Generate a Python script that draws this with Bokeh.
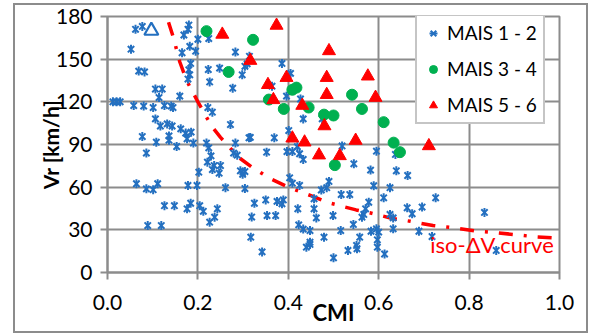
import numpy as np
from bokeh.plotting import figure
from bokeh.models import (Legend, LegendItem, Label, Range1d, FixedTicker,
                          NumeralTickFormatter)
from bokeh.embed import file_html
from bokeh.resources import INLINE

# ---------------- data ----------------
mais12_cmi = [0.062, 0.077, 0.052, 0.180, 0.178, 0.169, 0.200, 0.224, 0.165, 0.182,
              0.195, 0.184, 0.180, 0.182, 0.178, 0.069, 0.082, 0.106, 0.121, 0.114,
              0.160, 0.012, 0.020, 0.028, 0.058, 0.080, 0.101, 0.126, 0.141, 0.145,
              0.222, 0.232, 0.106, 0.117, 0.132, 0.143, 0.162, 0.173, 0.185, 0.077,
              0.136, 0.136, 0.108, 0.176, 0.190, 0.219, 0.272, 0.283, 0.313, 0.283,
              0.314, 0.309, 0.304, 0.298, 0.223, 0.248, 0.226, 0.277, 0.386, 0.405,
              0.364, 0.396, 0.427, 0.433, 0.475, 0.401, 0.316, 0.369, 0.519, 0.420,
              0.425, 0.433, 0.397, 0.409, 0.595, 0.637, 0.545, 0.582, 0.352, 0.639,
              0.664, 0.403, 0.409, 0.425, 0.490, 0.485, 0.473, 0.517, 0.536, 0.589,
              0.625, 0.611, 0.726, 0.325, 0.350, 0.375, 0.389, 0.386, 0.421, 0.457,
              0.457, 0.462, 0.499, 0.578, 0.571, 0.567, 0.563, 0.625, 0.632, 0.319,
              0.353, 0.372, 0.423, 0.433, 0.448, 0.479, 0.516, 0.544, 0.558, 0.583,
              0.595, 0.600, 0.632, 0.597, 0.597, 0.613, 0.440, 0.448, 0.448, 0.532,
              0.552, 0.551, 0.500, 0.342, 0.317, 0.663, 0.674, 0.696, 0.834, 0.689,
              0.718, 0.860, 0.086, 0.153, 0.224, 0.229, 0.221, 0.236, 0.232, 0.250,
              0.247, 0.202, 0.279, 0.287, 0.294, 0.304, 0.299, 0.261, 0.304, 0.064,
              0.086, 0.101, 0.111, 0.178, 0.198, 0.126, 0.148, 0.184, 0.176, 0.204,
              0.212, 0.243, 0.237, 0.226, 0.089, 0.119]
mais12_vr = [171, 173, 157, 174, 171, 167, 164, 164.5, 154.5, 159,
             155.6, 147, 142.5, 139, 136, 141.6, 141, 129, 129, 123,
             124, 120, 120, 120, 117.4, 117, 116, 117.4, 117, 116,
             116, 112.7, 108, 103, 104.5, 103, 101, 98, 98.7, 95.6,
             96, 93, 91.6, 94, 91, 91, 104, 91, 94.7, 155,
             152, 146.7, 145, 139, 142.7, 143.7, 134, 129.6, 147, 140,
             131, 124, 122, 108, 108, 99.8, 95, 94.7, 89, 88.5,
             83.5, 79.5, 85, 85, 85.3, 83, 76.4, 72, 84.6, 71.5,
             68.2, 66.6, 62.8, 61.2, 64, 59.6, 58, 54.8, 54.8, 61,
             59.6, 52.5, 52.5, 48.7, 51, 50, 51, 48.3, 44.8, 51.8,
             44.8, 38.4, 40, 49.4, 44.8, 40.8, 38.9, 40.8, 38.4, 39,
             40, 40, 33.5, 30.5, 29.5, 24.8, 29.5, 33.8, 24.8, 29,
             30.7, 28.4, 30.7, 23, 17.8, 13, 17.8, 19.7, 21.3, 15.5,
             16.7, 19, 10.3, 14.5, 24.8, 45.5, 41.3, 46, 42.2, 29,
             25.3, 15.5, 84, 88.6, 87.7, 82, 77.6, 75.2, 72.4, 75.2,
             69.8, 70.5, 84, 82.5, 71.5, 71, 69, 59.6, 59, 62.4,
             58.8, 58.2, 62.4, 61.2, 61.2, 47, 47, 48.7, 44.8, 47,
             43, 44.8, 38.9, 35.4, 33, 33]

mais34_cmi = [0.219, 0.322, 0.268, 0.409, 0.418, 0.541, 0.357, 0.390, 0.445, 0.563,
              0.479, 0.500, 0.611, 0.633, 0.647, 0.503]
mais34_vr = [169.7, 163.6, 141, 128.5, 130, 125, 121.6, 115, 116, 115,
             111, 110.4, 105.7, 91.3, 84.6, 75.5]

mais56_cmi = [0.254, 0.374, 0.316, 0.490, 0.396, 0.485, 0.576, 0.355, 0.485, 0.593,
              0.367, 0.431, 0.480, 0.409, 0.436, 0.549, 0.711, 0.468, 0.514]
mais56_vr = [167.4, 173.7, 149, 155.8, 137, 137, 138, 132, 125, 123,
             121.4, 117.4, 103, 94.4, 91.6, 92.8, 89, 82.5, 82]

marked_cmi = [0.097]
marked_vr = [170]

curve_cmi = [0.135, 0.145, 0.16, 0.175, 0.2, 0.23, 0.25, 0.29, 0.32, 0.36, 0.4,
             0.45, 0.49, 0.55, 0.58, 0.63, 0.67, 0.72, 0.765, 0.82, 0.86, 0.92,
             0.95, 1.0]
curve_vr = [176, 166, 148, 135, 120, 103, 95, 81, 74, 66, 60,
            54, 49, 44, 42, 38, 36, 33, 31.5, 29, 28, 26,
            25, 24]

x_ticks = [0.0, 0.2, 0.4, 0.6, 0.8, 1.0]
y_ticks = [0, 30, 60, 90, 120, 150, 180]
series_labels = ["MAIS 1 - 2", "MAIS 3 - 4", "MAIS 5 - 6"]
curve_label = "iso-\u0394V curve"
curve_label_pos = (0.714, 20)

# ---------------- figure ----------------
FONT = "Lato"
GRID = "#8c8c8c"
BLUE = "#2470c0"
GREEN = "#00b050"
RED = "#ff0000"

p = figure(width=575, height=330, x_range=Range1d(0, 1), y_range=Range1d(0, 180),
           output_backend="svg", toolbar_location=None,
           min_border_left=94, min_border_right=29, min_border_top=13,
           min_border_bottom=61)
p.styles = {"margin-left": "13px", "margin-top": "3px",
            "box-shadow": "inset 0 0 0 2px #8c8c8c"}
p.background_fill_color = "white"
p.border_fill_color = "white"
p.border_fill_alpha = 0
p.outline_line_color = GRID
p.outline_line_width = 2

for ax in (p.xaxis[0], p.yaxis[0]):
    ax.axis_line_color = GRID
    ax.axis_line_width = 2
    ax.major_tick_line_color = GRID
    ax.major_tick_line_width = 2
    ax.major_tick_out = 7
    ax.major_tick_in = 0
    ax.minor_tick_line_color = None
    ax.major_label_text_font = FONT
    ax.major_label_text_font_size = "21px"
    ax.major_label_text_color = "black"
    ax.axis_label_text_font = FONT
    ax.axis_label_text_font_style = "bold"
    ax.axis_label_text_font_size = "21px"
    ax.axis_label_text_color = "black"

p.xaxis.ticker = FixedTicker(ticks=x_ticks)
p.yaxis.ticker = FixedTicker(ticks=y_ticks)
p.xaxis.formatter = NumeralTickFormatter(format="0.0")
p.xaxis.axis_label = "CMI"
p.yaxis.axis_label = "Vr [km/h]"
p.xaxis.major_label_standoff = 15
p.yaxis.major_label_standoff = 8
p.xaxis.axis_label_standoff = -14
p.yaxis.axis_label_standoff = -10
p.xaxis.axis_label_text_font_size = "22px"

p.grid.grid_line_color = GRID
p.grid.grid_line_width = 2
p.xgrid.ticker = FixedTicker(ticks=x_ticks)
p.ygrid.ticker = FixedTicker(ticks=y_ticks)

# iso curve
p.line(curve_cmi, curve_vr, line_color=RED, line_width=3.5, line_dash="14 11 3 11")

r_x = p.scatter(mais12_cmi, mais12_vr, marker="x", size=9, line_color=BLUE, line_width=2)
r_bar = p.scatter(mais12_cmi, mais12_vr, marker="dash", angle=np.pi / 2, size=9,
                  line_color=BLUE, line_width=2)
r_g = p.scatter(mais34_cmi, mais34_vr, marker="circle", size=11, fill_color=GREEN,
                line_color=GREEN)
r_r = p.scatter(mais56_cmi, mais56_vr, marker="triangle", size=13, fill_color=RED,
                line_color=RED)
p.scatter(marked_cmi, marked_vr, marker="triangle", size=14, fill_color=None,
          line_color=BLUE, line_width=2.2)

p.add_layout(Label(x=curve_label_pos[0], y=curve_label_pos[1], text=curve_label,
                   text_color=RED, text_font=FONT, text_font_size="22px",
                   text_baseline="middle", text_align="left"))

legend = Legend(items=[LegendItem(label=series_labels[0], renderers=[r_x, r_bar]),
                       LegendItem(label=series_labels[1], renderers=[r_g]),
                       LegendItem(label=series_labels[2], renderers=[r_r])],
                location=(308, 148))
legend.border_line_color = GRID
legend.border_line_width = 2
legend.background_fill_color = "white"
legend.background_fill_alpha = 1
legend.label_text_font = FONT
legend.label_text_font_size = "19px"
legend.label_text_color = "black"
legend.glyph_height = 20
legend.glyph_width = 20
legend.label_height = 20
legend.spacing = 13
legend.padding = 6
legend.margin = 0
legend.label_standoff = 4
legend.inactive_fill_alpha = 0
p.add_layout(legend)

open("out.html", "w").write(file_html(p, INLINE))
